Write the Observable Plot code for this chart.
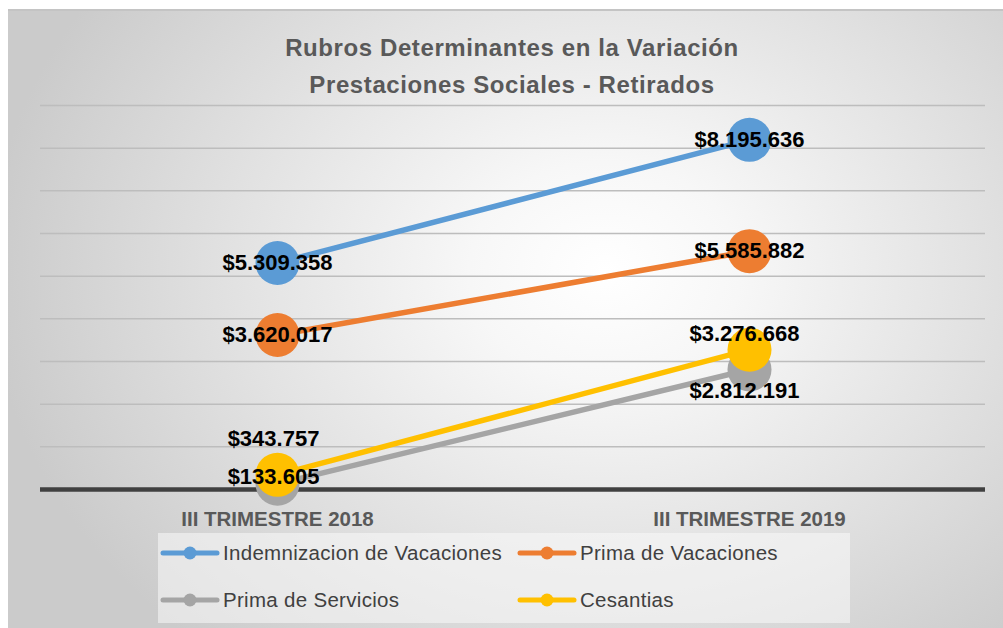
<!DOCTYPE html>
<html>
<head>
<meta charset="utf-8">
<script src="https://cdn.jsdelivr.net/npm/d3@7"></script>
<script src="https://cdn.jsdelivr.net/npm/@observablehq/plot@0.6"></script>
<style>
  html, body { margin: 0; padding: 0; background: #ffffff; width: 1003px; height: 628px; overflow: hidden; }
  #frame { position: absolute; left: 8px; top: 9px; width: 995px; height: 619px;
    border-top: 2px solid #c4c4c4;
    background: radial-gradient(ellipse 62% 80% at 60% 42%, #ffffff 0%, #f7f7f7 22%, #e2e2e2 60%, #cbcbcb 100%); }
  #title { position: absolute; left: 0; top: 29px; width: 1024px; text-align: center;
    font-family: "Liberation Sans", Arial, sans-serif; font-weight: bold; font-size: 24px; letter-spacing: 0.6px; line-height: 37px; color: #595959; }
  #plot { position: absolute; left: 0; top: 0; }
  #legend { position: absolute; left: 158px; top: 533px; width: 692px; height: 90px; background: rgba(250,250,250,0.55);
    font-family: "Liberation Sans", Arial, sans-serif; font-size: 20.5px; letter-spacing: 0.3px; color: #404040; }
  .item { position: absolute; display: flex; align-items: center; height: 26px; }
  .item svg { margin-right: 3px; }
</style>
</head>
<body>
<div id="frame"></div>
<div id="title">Rubros Determinantes en la Variación<br>Prestaciones Sociales - Retirados</div>
<div id="plot"></div>
<div id="legend"></div>
<script>
// ---- data ----
const periods = ["III TRIMESTRE 2018", "III TRIMESTRE 2019"];
const seriesNames = ["Indemnizacion de Vacaciones", "Prima de Vacaciones", "Prima de Servicios", "Cesantias"];
const indemnizacion = [5309358, 8195636];
const primaVacaciones = [3620017, 5585882];
const primaServicios = [133605, 2812191];
const cesantias = [343757, 3276668];
const yTicks = [0, 1000000, 2000000, 3000000, 4000000, 5000000, 6000000, 7000000, 8000000, 9000000];
// ---- styling (not data) ----
const colors = ["#5b9bd5", "#ed7d31", "#a5a5a5", "#ffc000"];
const labelDx = [[0, 0], [0, 0], [-4, -5], [-4, -5]];
const labelDy = [[0, 0], [0, 0], [-7, 21], [-36, -16]];

const values = [indemnizacion, primaVacaciones, primaServicios, cesantias];
const rows = [];
values.forEach((vals, s) => vals.forEach((v, i) => rows.push({
  serie: seriesNames[s], periodo: periods[i], valor: v, s, i,
  dx: labelDx[s][i], dy: labelDy[s][i]
})));

const loc = d3.formatLocale({decimal: ",", thousands: ".", grouping: [3], currency: ["$", ""]});
const fmt = loc.format("$,");

const marks = [
  Plot.ruleY(yTicks.filter(d => d > 0), {stroke: "#bdbdbd", strokeWidth: 1.5}),
  Plot.ruleY([0], {stroke: "#404040", strokeWidth: 4.5}),
  Plot.axisX({tickSize: 0, tickPadding: 22, fontSize: 20.5, fontWeight: "bold", fill: "#595959", label: null})
];
seriesNames.forEach((name, s) => {
  const d = rows.filter(r => r.s === s);
  marks.push(Plot.line(d, {x: "periodo", y: "valor", stroke: colors[s], strokeWidth: 5.5}));
  marks.push(Plot.dot(d, {x: "periodo", y: "valor", r: 22, fill: colors[s], stroke: "none"}));
});
rows.forEach(r => {
  marks.push(Plot.text([r], {x: "periodo", y: "valor", text: d => fmt(d.valor), dx: r.dx, dy: r.dy,
    fontSize: 22, fontWeight: "bold", fill: "#000", textAnchor: "middle", lineAnchor: "middle"}));
});

const chart = Plot.plot({
  width: 1003, height: 540,
  marginLeft: 40, marginRight: 18, marginTop: 105, marginBottom: 51,
  style: {background: "transparent", fontFamily: "Liberation Sans, Arial, sans-serif", overflow: "visible"},
  x: {type: "point", domain: periods, padding: 0.5},
  y: {domain: [0, 9000000], axis: null},
  marks
});
document.getElementById("plot").appendChild(chart);

// legend
const legend = document.getElementById("legend");
const pos = [[2, 7], [359, 7], [2, 54], [359, 54]];
seriesNames.forEach((name, s) => {
  const div = document.createElement("div");
  div.className = "item";
  div.style.left = pos[s][0] + "px";
  div.style.top = pos[s][1] + "px";
  div.innerHTML = `<svg width="60" height="16"><line x1="3" y1="8" x2="57" y2="8" stroke="${colors[s]}" stroke-width="5" stroke-linecap="round"/><circle cx="30" cy="8" r="6.5" fill="${colors[s]}"/></svg><span>${name}</span>`;
  legend.appendChild(div);
});
</script>
</body>
</html>
